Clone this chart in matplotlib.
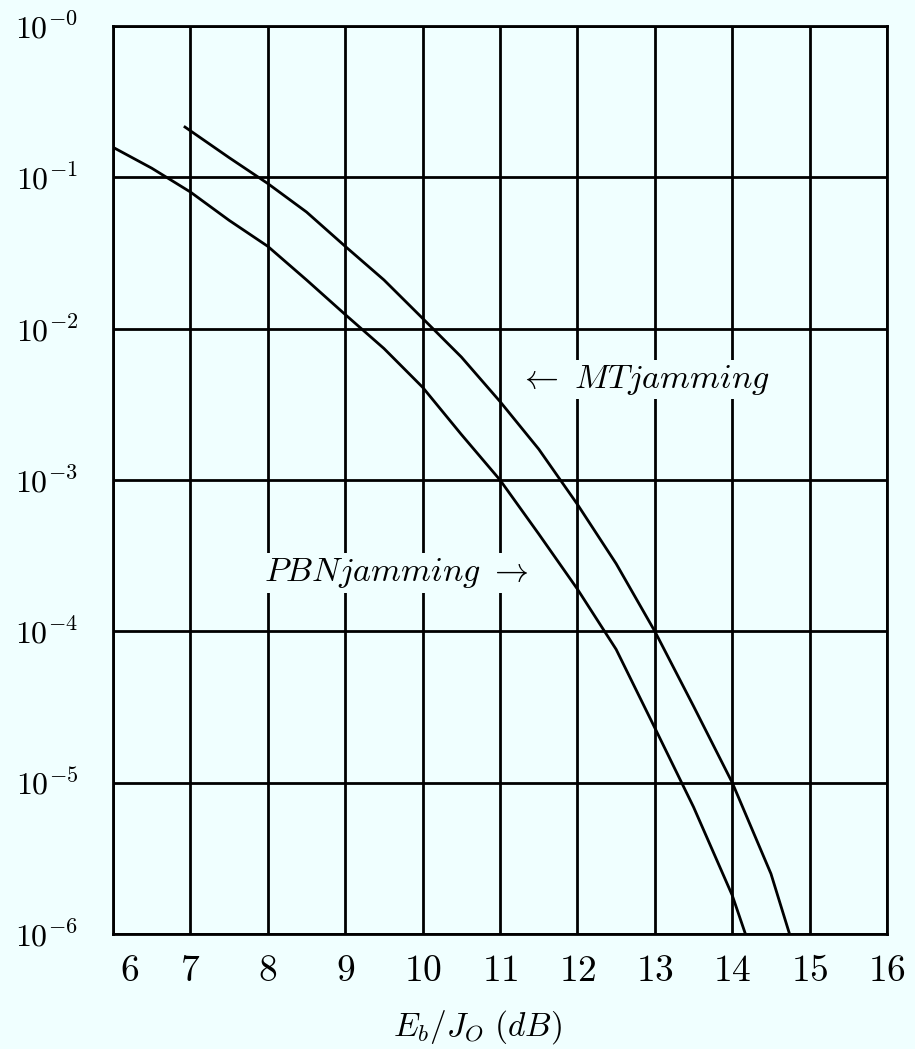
#!/usr/bin/env python3
import numpy as np
import matplotlib
matplotlib.use('Agg')
import matplotlib.pyplot as plt
import matplotlib.transforms as mtransforms

# Matplotlib settings
matplotlib.rcParams['mathtext.fontset'] = 'cm'
matplotlib.rcParams['axes.unicode_minus'] = False

# Bit error rate vs Eb/Jo, PBN jamming
ebjo_pbn = [6.0, 6.5, 7.0, 7.5, 8.0, 8.5, 9.0, 9.5, 10.0, 10.5, 11.0, 11.5, 12.0, 12.5, 13.0, 13.5, 14.0, 14.17]
ber_pbn = [0.158, 0.115, 0.080, 0.052, 0.035, 0.021, 0.0124, 0.0074, 0.0041, 0.0020, 0.0010, 4.4e-4, 1.9e-4,
           7.6e-5, 2.3e-5, 6.9e-6, 1.8e-6, 1.0e-6]

# Bit error rate vs Eb/Jo, multitone jamming
ebjo_mt = [6.93, 7.5, 8.0, 8.5, 9.0, 9.5, 10.0, 10.5, 11.0, 11.5, 12.0, 12.5, 13.0, 13.5, 14.0, 14.5, 14.74]
ber_mt = [0.215, 0.135, 0.091, 0.059, 0.035, 0.021, 0.0117, 0.0065, 0.0033, 0.0016, 6.9e-4, 2.8e-4, 1.0e-4,
          3.2e-5, 1.0e-5, 2.5e-6, 1.0e-6]

x_ticks = list(range(6, 17))
y_ticks = [1e0, 1e-1, 1e-2, 1e-3, 1e-4, 1e-5, 1e-6]
y_tick_labels = [r'$10^{-0}$', r'$10^{-1}$', r'$10^{-2}$', r'$10^{-3}$', r'$10^{-4}$', r'$10^{-5}$', r'$10^{-6}$']

bg = '#f0ffff'
line_w = 2.0

fig = plt.figure(figsize=(9.15, 10.49), dpi=100, facecolor=bg)
ax = fig.add_axes([0.1235, 0.1096, 0.846, 0.8656])
ax.set_facecolor(bg)

ax.plot(ebjo_pbn, ber_pbn, '-', c='k', lw=line_w)
ax.plot(ebjo_mt, ber_mt, '-', c='k', lw=line_w)

ax.set_yscale('log')
ax.set_xlim(6, 16)
ax.set_ylim(1e-6, 1e0)

ax.set_xticks(x_ticks)
ax.set_xticklabels([r'$%d$' % t for t in x_ticks], fontsize=27)
ax.set_yticks(y_ticks)
ax.set_yticklabels(y_tick_labels, fontsize=23)
ax.yaxis.set_minor_locator(matplotlib.ticker.NullLocator())
ax.tick_params(axis='x', length=0, pad=14)
ax.tick_params(axis='y', length=0, pad=25)

# the first x label sits a little inside the corner
first = ax.get_xticklabels()[0]
first.set_transform(first.get_transform() + mtransforms.ScaledTranslation(0.17, 0, fig.dpi_scale_trans))

ax.grid(True, which='major', color='k', lw=line_w)
for s in ax.spines.values():
    s.set_linewidth(line_w)

# curve labels, boxed so the grid is broken behind them
box = dict(facecolor=bg, edgecolor='none', pad=2)
ax.text(11.24, 4.6e-3, r'$\leftarrow\ MTjamming$', fontsize=24.5, ha='left', va='center', bbox=box)
ax.text(7.95, 2.43e-4, r'$PBNjamming\ \rightarrow$', fontsize=24.5, ha='left', va='center', bbox=box)

fig.text(477 / 915, 1 - 1027 / 1049, r'$E_b/J_O\ (dB)$', fontsize=24, ha='center', va='center')

fig.savefig('out.png', dpi=100, facecolor=bg)
